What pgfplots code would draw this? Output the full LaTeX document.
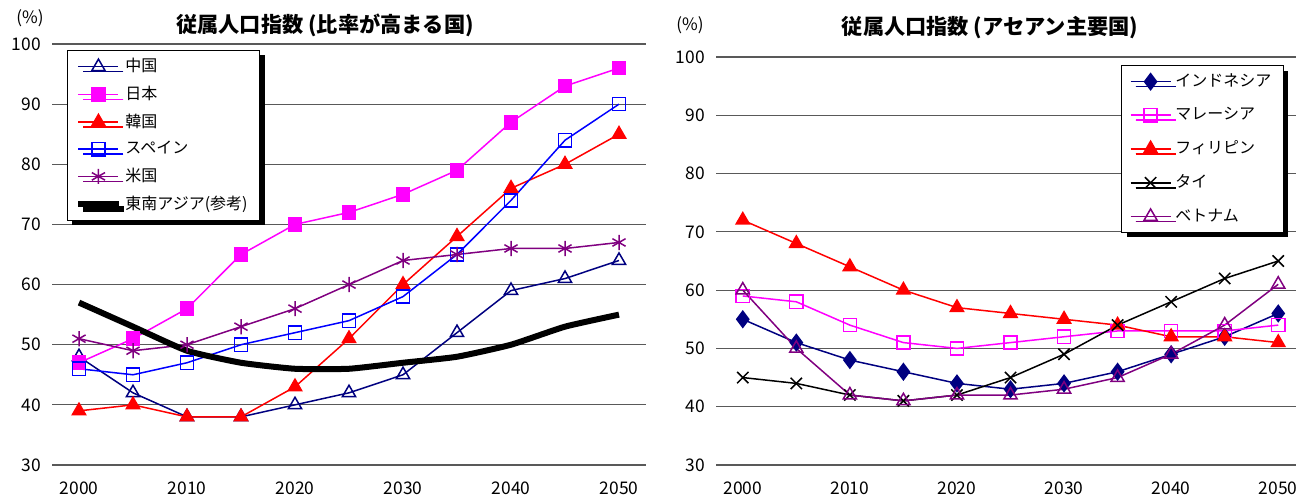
\documentclass[border=0pt]{standalone}
\usepackage{pgfplots}
\pgfplotsset{compat=1.18}
\usepackage{fontspec}
\setmainfont{Noto Sans CJK JP}
\usetikzlibrary{shadows}
\definecolor{cnavy}{RGB}{0,0,128}
\definecolor{cmag}{RGB}{255,0,255}
\definecolor{cred}{RGB}{255,0,0}
\definecolor{cblue}{RGB}{0,0,255}
\definecolor{cpur}{RGB}{128,0,128}
\pgfplotsset{
  mystyle/.style={
    scale only axis,
    anchor=south west,
    xmin=1997.5, xmax=2052.5, ymin=30, ymax=100,
    xtick={2000,2010,2020,2030,2040,2050},
    ytick={30,40,50,60,70,80,90,100},
    axis line style={draw=none},
    major tick length=0pt,
    ymajorgrids,
    grid style={black!65, line width=0.6pt},
    /pgf/number format/1000 sep={},
    /pgf/number format/assume math mode=true,
    tick label style={font=\fontsize{8.7}{10}\selectfont},
    xticklabel style={yshift=-5pt},
    yticklabel style={xshift=-2pt},
    legend cell align=left,
    legend style={draw=black, fill=white, line width=0.6pt,
      font=\fontsize{8}{10}\selectfont,
      drop shadow={shadow xshift=2.5pt, shadow yshift=-2.5pt, fill=black, opacity=1},
      inner xsep=4pt},
    legend image code/.code={\draw[mark repeat=2,mark phase=2] plot coordinates {(0pt,0pt) (10pt,0pt) (20pt,0pt)};},
    every axis plot/.append style={line width=0.75pt, mark options={solid}},
  }
}
\begin{document}
\begin{tikzpicture}[trim left=0pt, trim right=648pt]
\path[use as bounding box] (0,0) rectangle (648pt,248pt);
\begin{axis}[mystyle, at={(26pt,15.5pt)}, width=297pt, height=210.5pt,
  legend style={at={(0.025,0.986)}, anchor=north west, row sep=1.6pt}]
\addplot[color=cnavy, mark=triangle, mark size=3.8pt, mark options={fill=white}] coordinates {(2000,48)(2005,42)(2010,38)(2015,38)(2020,40)(2025,42)(2030,45)(2035,52)(2040,59)(2045,61)(2050,64)};
\addlegendentry{中国}
\addplot[color=cmag, mark=square*, mark size=3.3pt] coordinates {(2000,47)(2005,51)(2010,56)(2015,65)(2020,70)(2025,72)(2030,75)(2035,79)(2040,87)(2045,93)(2050,96)};
\addlegendentry{日本}
\addplot[color=cred, mark=triangle*, mark size=3.8pt] coordinates {(2000,39)(2005,40)(2010,38)(2015,38)(2020,43)(2025,51)(2030,60)(2035,68)(2040,76)(2045,80)(2050,85)};
\addlegendentry{韓国}
\addplot[color=cblue, mark=square, mark size=3.3pt, mark options={fill=white}] coordinates {(2000,46)(2005,45)(2010,47)(2015,50)(2020,52)(2025,54)(2030,58)(2035,65)(2040,74)(2045,84)(2050,90)};
\addlegendentry{スペイン}
\addplot[color=cpur, mark=asterisk, mark size=3.8pt] coordinates {(2000,51)(2005,49)(2010,50)(2015,53)(2020,56)(2025,60)(2030,64)(2035,65)(2040,66)(2045,66)(2050,67)};
\addlegendentry{米国}
\addplot[color=black, line width=3pt, no marks, smooth, tension=0.3] coordinates {(2000,57)(2005,53)(2010,49)(2015,47)(2020,46)(2025,46)(2030,47)(2035,48)(2040,50)(2045,53)(2050,55)};
\addlegendentry{東南アジア(参考)}
\end{axis}
\begin{axis}[mystyle, at={(358pt,15.5pt)}, width=294.5pt, height=204pt,
  legend style={at={(0.688,0.98)}, anchor=north west, row sep=5pt}]
\addplot[color=cnavy, mark=diamond*, mark size=4pt] coordinates {(2000,55)(2005,51)(2010,48)(2015,46)(2020,44)(2025,43)(2030,44)(2035,46)(2040,49)(2045,52)(2050,56)};
\addlegendentry{インドネシア}
\addplot[color=cmag, mark=square, mark size=3.3pt, mark options={fill=white}] coordinates {(2000,59)(2005,58)(2010,54)(2015,51)(2020,50)(2025,51)(2030,52)(2035,53)(2040,53)(2045,53)(2050,54)};
\addlegendentry{マレーシア}
\addplot[color=cred, mark=triangle*, mark size=3.8pt] coordinates {(2000,72)(2005,68)(2010,64)(2015,60)(2020,57)(2025,56)(2030,55)(2035,54)(2040,52)(2045,52)(2050,51)};
\addlegendentry{フィリピン}
\addplot[color=black, mark=x, mark size=4pt] coordinates {(2000,45)(2005,44)(2010,42)(2015,41)(2020,42)(2025,45)(2030,49)(2035,54)(2040,58)(2045,62)(2050,65)};
\addlegendentry{タイ}
\addplot[color=cpur, mark=triangle, mark size=3.8pt, mark options={fill=white}] coordinates {(2000,60)(2005,50)(2010,42)(2015,41)(2020,42)(2025,42)(2030,43)(2035,45)(2040,49)(2045,54)(2050,61)};
\addlegendentry{ベトナム}
\end{axis}
\node[font=\fontsize{8.5}{10}\selectfont] at (15pt,239pt) {(\%)};
\node[font=\fontsize{8.5}{10}\selectfont] at (345pt,235.5pt) {(\%)};
\node[font=\bfseries\fontsize{10.6}{12}\selectfont] at (162.5pt,235.5pt) {従属人口指数 (比率が高まる国)};
\node[font=\bfseries\fontsize{10.6}{12}\selectfont] at (495pt,234pt) {従属人口指数 (アセアン主要国)};
\end{tikzpicture}
\end{document}
